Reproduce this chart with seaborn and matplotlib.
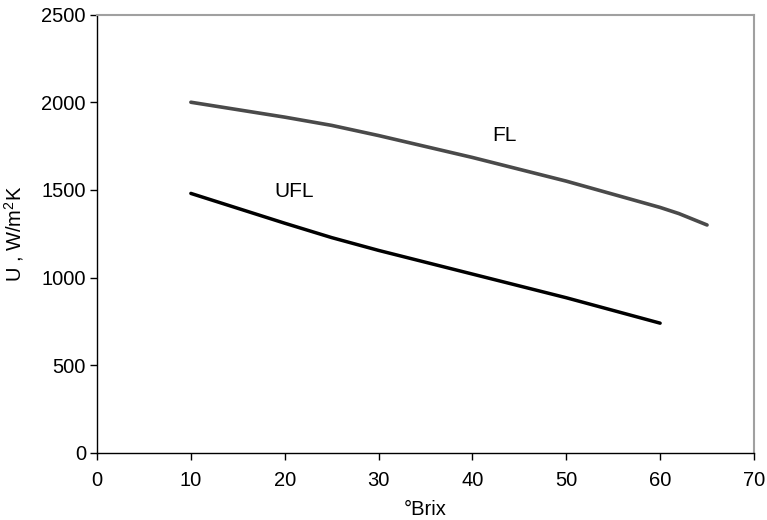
import matplotlib
matplotlib.use("Agg")
import matplotlib.pyplot as plt
import seaborn as sns
import pandas as pd

fl_brix = [10, 20, 25, 30, 40, 50, 60, 62, 65]
fl_u = [2000, 1915, 1868, 1810, 1685, 1550, 1400, 1365, 1300]
ufl_brix = [10, 20, 25, 30, 40, 50, 60]
ufl_u = [1480, 1310, 1228, 1155, 1020, 885, 740]
x_ticks = [0, 10, 20, 30, 40, 50, 60, 70]
y_ticks = [0, 500, 1000, 1500, 2000, 2500]

sns.set_style("white")
plt.rcParams['font.family'] = ['Liberation Sans', 'DejaVu Sans']
plt.rcParams['mathtext.fontset'] = 'custom'
plt.rcParams['mathtext.rm'] = 'Liberation Sans'
plt.rcParams['mathtext.it'] = 'Liberation Sans'
plt.rcParams['mathtext.default'] = 'regular'
plt.rcParams['text.color'] = 'black'
plt.rcParams['axes.labelcolor'] = 'black'
plt.rcParams['xtick.color'] = 'black'
plt.rcParams['ytick.color'] = 'black'

fig = plt.figure(figsize=(7.67, 5.2), dpi=100)
ax = fig.add_axes([0.1265, 0.129, 0.983 - 0.1265, 0.972 - 0.129])

df_fl = pd.DataFrame({"Brix": fl_brix, "U": fl_u})
df_ufl = pd.DataFrame({"Brix": ufl_brix, "U": ufl_u})
sns.lineplot(data=df_fl, x="Brix", y="U", ax=ax, color="#4a4a4a", linewidth=2.6)
sns.lineplot(data=df_ufl, x="Brix", y="U", ax=ax, color="#000000", linewidth=2.5)

ax.text(43.4, 1809, "FL", fontsize=15, ha="center", va="center")
ax.text(21.0, 1490, "UFL", fontsize=15, ha="center", va="center")

ax.set_xlim(0, 70)
ax.set_ylim(0, 2500)
ax.set_xticks(x_ticks)
ax.set_yticks(y_ticks)
ax.tick_params(axis="both", labelsize=14.5, direction="out", length=5, width=1,
               color="black", labelcolor="black", bottom=True, left=True)
ax.tick_params(axis="x", pad=8)
ax.tick_params(axis="y", pad=3)
ax.set_xlabel("°Brix", fontsize=14.5, labelpad=7)
ax.set_ylabel("U , W/m$^{2}$K", fontsize=14.5, labelpad=11)

for s in ["left", "bottom"]:
    ax.spines[s].set_color("black")
    ax.spines[s].set_linewidth(1.0)
for s in ["top", "right"]:
    ax.spines[s].set_color("#a0a0a0")
    ax.spines[s].set_linewidth(1.5)

fig.savefig("out.png", dpi=100)
